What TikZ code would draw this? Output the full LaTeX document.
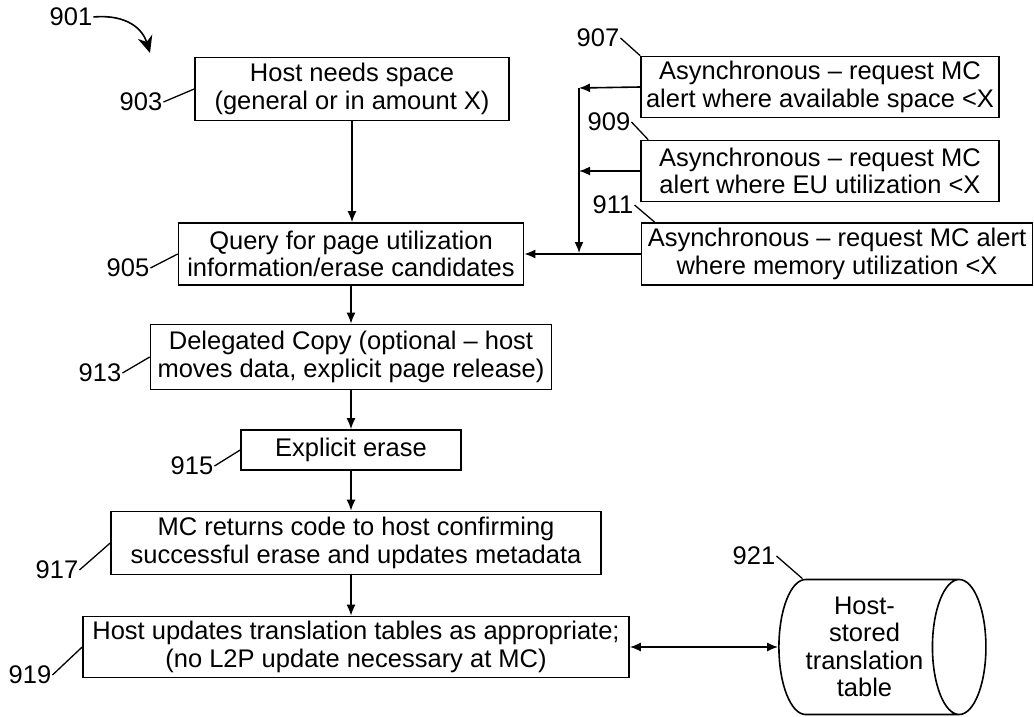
\documentclass[tikz,border=0pt]{standalone}
\usepackage{fontspec}
\setmainfont{Liberation Sans}
\usetikzlibrary{arrows.meta,shapes.geometric}

\tikzset{
  box/.style={draw, line width=1.6pt, align=center, inner sep=2pt},
  num/.style={inner sep=1pt},
  lead/.style={line width=1.3pt},
  flow/.style={->, line width=1.6pt},
}

\begin{document}
\begin{tikzpicture}[x=1pt, y=-1pt, >={Latex[length=11pt,width=9pt]},
    font=\fontsize{25.5}{27.5}\selectfont]
  \useasboundingbox (0,0) rectangle (1034,717);

  % main column
  \node[box, minimum width=314pt, minimum height=63pt] (n903) at (352,89) {Host needs space\\(general or in amount X)};
  \node[box, minimum width=345pt, minimum height=62pt] (n905) at (351,254) {Query for page utilization\\information/erase candidates};
  \node[box, minimum width=401pt, minimum height=65pt] (n913) at (351,357) {Delegated Copy (optional -- host\\moves data, explicit page release)};
  \node[box, minimum width=220pt, minimum height=40pt] (n915) at (351,450) {Explicit erase};
  \node[box, minimum width=490pt, minimum height=63pt] (n917) at (356,543) {MC returns code to host confirming\\successful erase and updates metadata};
  \node[box, minimum width=546pt, minimum height=61pt] (n919) at (356,647) {Host updates translation tables as appropriate;\\(no L2P update necessary at MC)};

  % asynchronous requests
  \node[box, minimum width=358pt, minimum height=61pt] (n907) at (820,87) {Asynchronous -- request MC\\alert where available space <X};
  \node[box, minimum width=358pt, minimum height=61pt] (n909) at (820,171) {Asynchronous -- request MC\\alert where EU utilization <X};
  \node[box, minimum width=391pt, minimum height=62pt] (n911) at (837,254) {Asynchronous -- request MC alert\\where memory utilization <X};

  \node[cylinder, draw, line width=1.6pt, aspect=0.5, align=center,
        minimum height=207pt, minimum width=135pt] (n921) at (864.5,647) {Host-\\stored\\translation\\table};

  % reference numerals
  \node[num] (l901) at (71,17) {901};
  \node[num] (l903) at (141,102) {903};
  \node[num] (l905) at (128,268) {905};
  \node[num] (l907) at (598,38) {907};
  \node[num] (l909) at (609,122) {909};
  \node[num] (l911) at (613,205) {911};
  \node[num] (l913) at (100,373) {913};
  \node[num] (l915) at (192,466) {915};
  \node[num] (l917) at (57,570) {917};
  \node[num] (l919) at (30,675) {919};
  \node[num] (l921) at (754,556) {921};

  \draw[lead] (l903.east) -- (n903.west);
  \draw[lead] (l905.east) -- (n905.west);
  \draw[lead] (l913.east) -- (n913.west);
  \draw[lead] (l915.east) -- (n915.west);
  \draw[lead] (l917.east) -- (n917.west);
  \draw[lead] (l919.east) -- (n919.west);
  \draw[lead] (l907.east) -- (n907.north west);
  \draw[lead] (l909.east) -- ([xshift=8pt]n909.north west);
  \draw[lead] (l911.east) -- ([xshift=14pt]n911.north west);
  \draw[lead] (l921.east) -- ([xshift=-62pt]n921.north);

  \coordinate (p901) at (150,53);
  \draw[line width=1.6pt, -{Stealth[length=17pt,width=15pt]}]
     (l901.east) .. controls (128,14) and (143,30) .. (p901);

  % flow
  \draw[flow] (n903.south) -- (n903.south |- n905.north);
  \draw[flow] (n905.south) -- (n905.south |- n913.north);
  \draw[flow] (n913.south) -- (n913.south |- n915.north);
  \draw[flow] (n915.south) -- (n915.south |- n917.north);
  \draw[flow] (n915.south |- n917.south) -- (n915.south |- n919.north);
  \draw[<->, line width=1.6pt] (n919) -- (n921);

  % alert bus
  \coordinate (bustop) at (579,88);
  \coordinate (busbot) at (579,253);
  \draw[flow] (n907.west) -- (bustop);
  \draw[flow] (n909.west) -- (n909.west -| bustop);
  \draw[flow] (bustop) -- (busbot);
  \draw[flow] (n911.west) -- (n905.east);
\end{tikzpicture}
\end{document}
